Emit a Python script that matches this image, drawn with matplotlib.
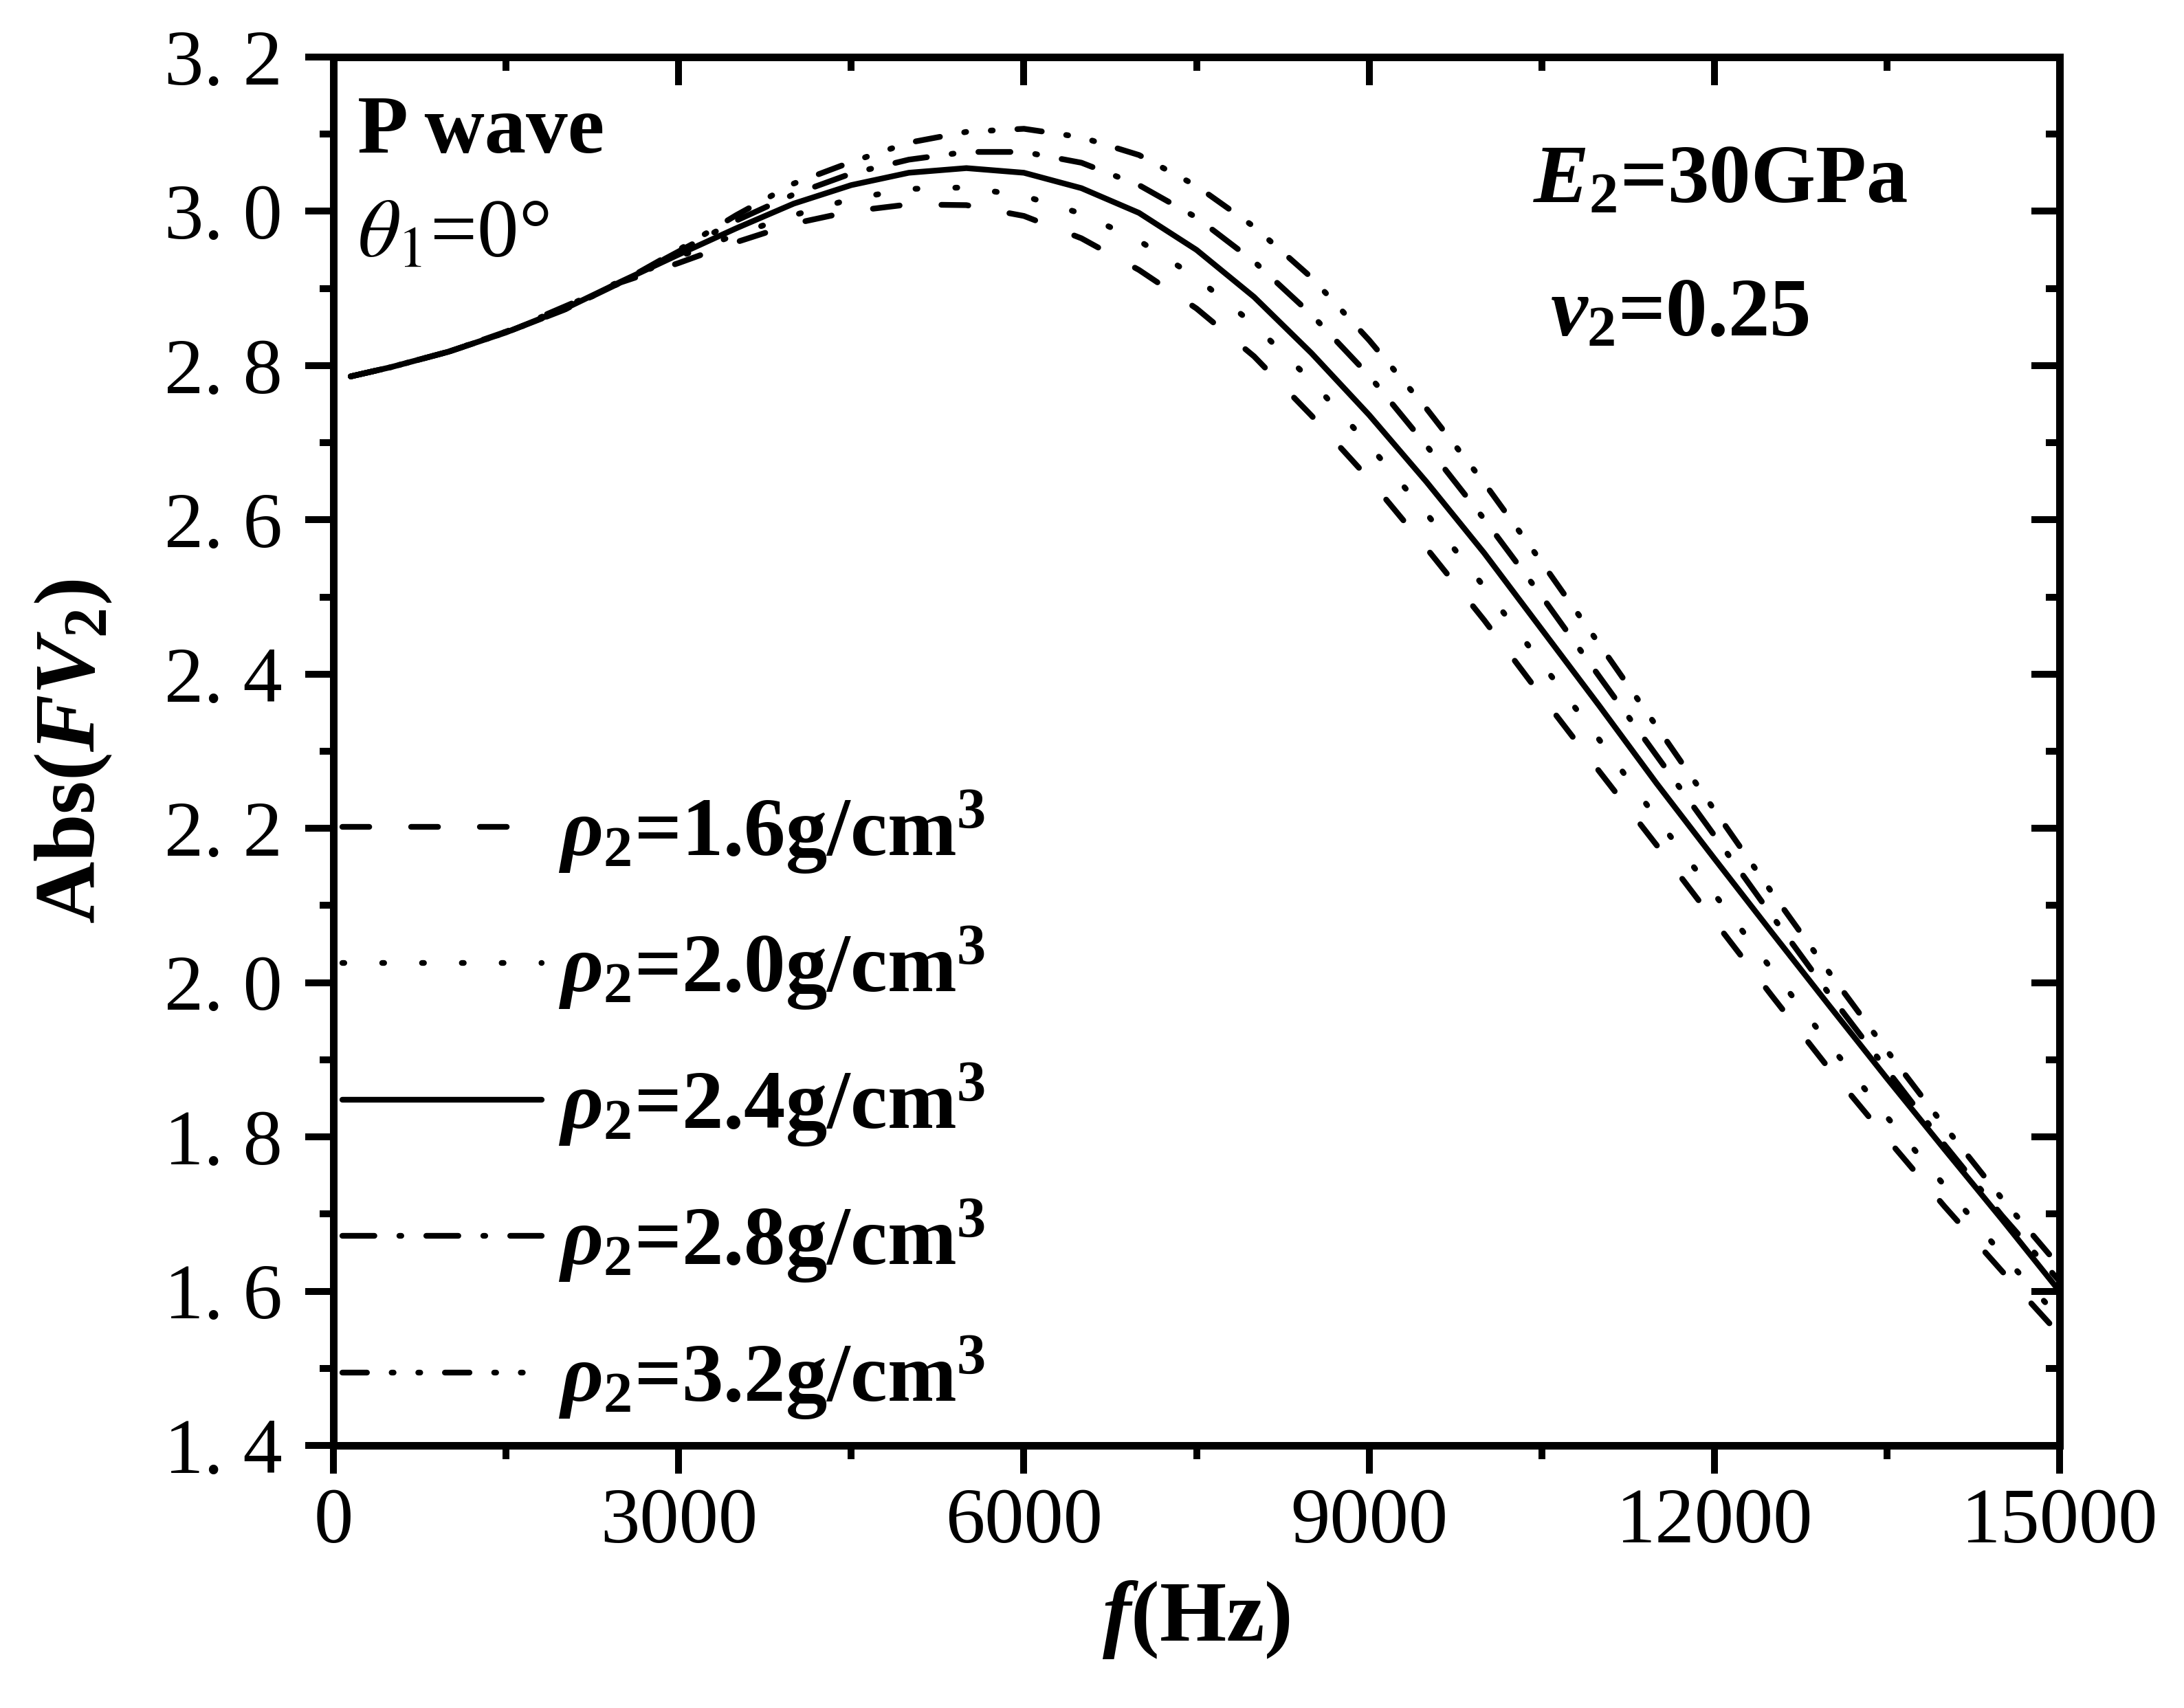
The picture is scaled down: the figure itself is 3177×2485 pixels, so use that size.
import matplotlib
matplotlib.use('Agg')
import matplotlib.pyplot as plt
from matplotlib.ticker import MultipleLocator, FuncFormatter

# frequency grid (Hz) and Abs(FV2) for each density
freq = [150, 500, 1000, 1500, 2000, 2500, 3000, 3500, 4000, 4500, 5000,
        5500, 6000, 6500, 7000, 7500, 8000, 8500, 9000, 9500, 10000,
        10500, 11000, 11500, 12000, 12500, 13000, 13500, 14000, 14500, 15000]

rho16 = [2.786, 2.798, 2.818, 2.844, 2.876, 2.908, 2.933, 2.960, 2.984, 3.000, 3.009,
         3.008, 2.994, 2.965, 2.924, 2.874, 2.812, 2.735, 2.653, 2.563, 2.470,
         2.371, 2.274, 2.178, 2.080, 1.983, 1.888, 1.798, 1.710, 1.626, 1.544]
rho20 = [2.786, 2.798, 2.818, 2.844, 2.875, 2.910, 2.941, 2.970, 2.995, 3.016, 3.029,
         3.031, 3.020, 2.997, 2.962, 2.914, 2.853, 2.780, 2.697, 2.608, 2.513,
         2.414, 2.315, 2.213, 2.115, 2.017, 1.920, 1.826, 1.737, 1.648, 1.565]
rho24 = [2.786, 2.798, 2.818, 2.843, 2.873, 2.909, 2.944, 2.978, 3.010, 3.034, 3.050,
         3.056, 3.050, 3.030, 2.998, 2.950, 2.889, 2.816, 2.736, 2.649, 2.557,
         2.458, 2.359, 2.258, 2.161, 2.065, 1.970, 1.876, 1.784, 1.693, 1.600]
rho28 = [2.786, 2.798, 2.818, 2.843, 2.872, 2.908, 2.948, 2.988, 3.022, 3.049, 3.067,
         3.077, 3.077, 3.063, 3.034, 2.992, 2.935, 2.866, 2.787, 2.696, 2.601,
         2.501, 2.397, 2.294, 2.191, 2.087, 1.985, 1.887, 1.790, 1.698, 1.613]
rho32 = [2.786, 2.798, 2.818, 2.843, 2.872, 2.908, 2.950, 2.995, 3.036, 3.064, 3.089,
         3.103, 3.107, 3.096, 3.073, 3.033, 2.980, 2.914, 2.833, 2.744, 2.648,
         2.545, 2.439, 2.332, 2.224, 2.117, 2.013, 1.912, 1.814, 1.720, 1.632]

densities = ['1.6', '2.0', '2.4', '2.8', '3.2']
series = [rho16, rho20, rho24, rho28, rho32]

plt.rcParams['font.family'] = 'Liberation Serif'
plt.rcParams['mathtext.fontset'] = 'custom'
plt.rcParams['mathtext.rm'] = 'Liberation Serif:bold'
plt.rcParams['mathtext.it'] = 'Liberation Serif:italic:bold'
plt.rcParams['mathtext.bf'] = 'Liberation Serif:bold'

# line styles (dash lengths in units of line width)
styles = [(0, (4.7, 7.3)),
          (0, (0.35, 6.6)),
          '-',
          (0, (5.6, 4.35, 0.35, 4.35)),
          (0, (4.3, 4.3, 0.35, 4.3, 0.35, 4.3))]

fig = plt.figure(figsize=(3177 / 300, 2485 / 300), dpi=300)
ax = fig.add_axes([0.1527, 0.1537, 0.943 - 0.1527, 0.9666 - 0.1537])

for vals, d, ls in zip(series, densities, styles):
    ax.plot(freq, vals, color='black', lw=2.0, linestyle=ls,
            dash_capstyle='round', solid_capstyle='round',
            label=r'$\rho_{\mathit{2}}$=' + d + r'g/cm$^{3}$')

ax.set_xlim(0, 15000)
ax.set_ylim(1.4, 3.2)
ax.xaxis.set_major_locator(MultipleLocator(3000))
ax.xaxis.set_minor_locator(MultipleLocator(1500))
ax.yaxis.set_major_locator(MultipleLocator(0.2))
ax.yaxis.set_minor_locator(MultipleLocator(0.1))
ax.yaxis.set_major_formatter(FuncFormatter(lambda v, p: f'{v:.1f}'.replace('.', '. ')))

for s in ax.spines.values():
    s.set_linewidth(2.64)

ax.tick_params(which='major', direction='out', length=9.8, width=2.4, labelsize=27.5)
ax.tick_params(which='minor', direction='out', length=4.8, width=2.4)
ax.tick_params(axis='y', which='major', pad=8)
ax.tick_params(axis='x', which='major', pad=5)

# top / right axes with inward ticks
secx = ax.secondary_xaxis('top')
secx.xaxis.set_major_locator(MultipleLocator(3000))
secx.xaxis.set_minor_locator(MultipleLocator(1500))
secx.tick_params(which='major', direction='in', length=9.8, width=2.4, labeltop=False)
secx.tick_params(which='minor', direction='in', length=4.8, width=2.4, labeltop=False)
secx.spines['top'].set_linewidth(2.64)
secy = ax.secondary_yaxis('right')
secy.yaxis.set_major_locator(MultipleLocator(0.2))
secy.yaxis.set_minor_locator(MultipleLocator(0.1))
secy.tick_params(which='major', direction='in', length=9.8, width=2.4, labelright=False)
secy.tick_params(which='minor', direction='in', length=4.8, width=2.4, labelright=False)
secy.spines['right'].set_linewidth(2.64)

ax.set_xlabel(r'$f$(Hz)', fontsize=30, fontweight='bold')
ax.xaxis.set_label_coords(0.5, -0.096)
ax.set_ylabel(r'Abs($FV_{\mathit{2}}$)', fontsize=30, fontweight='bold')
ax.yaxis.set_label_coords(-0.127, 0.5)

ax.text(0.014, 0.931, 'P wave', transform=ax.transAxes, fontsize=29,
        fontweight='bold', va='baseline')
ax.text(0.014, 0.856, r'$\theta_{\mathit{1}}$=0°', transform=ax.transAxes,
        fontsize=29, va='baseline', math_fontfamily='stix')
ax.text(0.695, 0.896, r'$E_{\mathit{2}}$=30GPa', transform=ax.transAxes,
        fontsize=29, fontweight='bold', va='baseline')
ax.text(0.705, 0.800, r'$\nu_{\mathit{2}}$=0.25', transform=ax.transAxes,
        fontsize=29, fontweight='bold', va='baseline')

ax.legend(loc='upper left', bbox_to_anchor=(0.005, 0.473), frameon=False,
          prop={'family': 'Liberation Serif', 'weight': 'bold', 'size': 29},
          handlelength=2.4, handletextpad=0.2, labelspacing=0.59,
          borderaxespad=0, borderpad=0)

fig.savefig('out.png', dpi=300, facecolor='white')
